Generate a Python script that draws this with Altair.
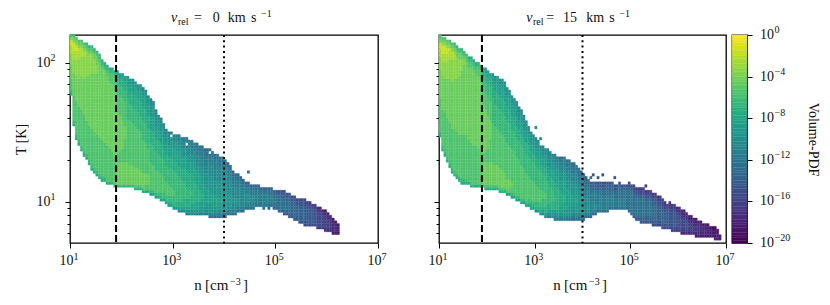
import altair as alt
import pandas as pd

FONT = "Liberation Serif"
INK = "#111"
LOG_N0, LOG_T0 = 1.0, 0.705
DN, DT = 0.05, 0.02   # bin widths of the histogram, in decades
T_DOMAIN = [10 ** LOG_T0, 158.5]
N_DOMAIN = [10, 1e7]
N_DASHED = 79
N_DOTTED = 1e4
LEVEL_SHIFT = 0.6     # calibration of the -log10(PDF) readings below

# first occupied T-bin of each n-bin
LOW_A = [53,42,37,35,33,31,30,28,26,25,24,23,22,22,21,21,21,20,20,20,20,20,20,20,20,19,19,19,18,18,18,17,17,16,16,15,15,14,13,13,12,12,11,11,11,10,10,10,10,10,10,10,10,10,9,9,9,9,9,9,9,10,10,10,10,11,11,11,12,12,12,12,13,13,13,12,13,12,13,12,12,11,11,10,10,9,9,8,8,7,7,6,6,6,6,6,5,5,5,4,4,4,3,3,3]
# -log10(PDF) going up each n-bin: "<level>x<count>", "_" = empty bin
RUNS_A = [
"7 6 5x4 4x5 3x4 2x3 1x2 3 5","7 6 5x9 4x8 3x5 2x3 1x3 3 4 5","7 6 5x12 4x9 3x6 2x3 1x2 3 4 5","7 6 5x12 4x10 3x7 2x3 1 3 4 5",
"7 6 5x13 4x12 3x7 2x3 3 4 5","7 6 5x13 4x13 3x8 2x2 3 4 5","7 6 5x12 4x16 3x9 4 5 6","7 6 5x12 4x18 3x8 4 5 6",
"7 6 5x13 4x20 3x7 4 5 6","7 6 5x13 4x21 3x5 4x2 5 6","7 6 5x13 4x22 3x3 4x3 5 6","7 6 5x13 4x27 5 6x2",
"7 6 5x13 4x26 5 6x2","7 6 5x12 4x26 5 6 7","7 5x13 4x25 5x2 6 7","7 5x12 4x24 5x3 6 7","6 5x11 4x24 5x4 6 7","7 5x10 4x24 5x5 6 7",
"6 4x8 5x3 4x15 5x7 6x4 7x2 8x2","6 4x8 5x4 4x13 5x7 6x4 7x2 8x2","6 4x8 5x5 4x10 5x8 6x4 7x3 8x2","6 4x8 5x8 4x5 5x9 6x4 7x3 8x2",
"6 4x8 5x15 6x8 7x4 8x3 9","6 4x7 5x16 6x6 7x4 8x3 9x2","6 4x7 5x15 6x6 7x5 8x3 9x2","7 5 4x6 5x15 6x6 7x5 8x3 9x2",
"7 5 4x6 5x14 6x6 7x5 8x3 9x2","7 5 4x5 5x14 6x6 7x5 8x4 9x2","7 5 4x5 5x12 6x7 7x5 8x4 9x2 a","7 5x2 4x4 5x11 6x7 7x5 8x4 9x2 a",
"7 5x2 4x4 5x9 6x7 7x5 8x4 9x2 a","8 6 5x10 6x7 7x5 8x5 9x4 ax2","8 6 5x9 6x7 7x5 8x5 9x4 ax2","8 6 5x8 6x7 7x5 8x4 9x4 ax2",
"8 6 5x8 6x6 7x5 8x4 9x3 ax2","8 6x2 5x7 6x6 7x5 8x4 9x3 ax2","8 6x2 5x6 6x6 7x4 8x4 9x3 ax2","8 6x2 5x5 6x6 7x4 8x4 9x3 ax2",
"8 7 6x2 5x4 6x6 7x4 8x4 9x3 ax2","8 7 6x2 5x3 6x7 7x4 8x4 9x3 _ b","9 7 6x3 5x2 6x7 7x4 8x4 9x3 ax2","9 7x2 6x10 7x4 8x4 9x3 ax2 b",
"a 8 7x2 6x9 7x4 8x5 9x3 ax2 b","a 8 7x2 6x8 7x4 8x4 9x3 ax3 b","a 8 7x3 6x6 7x5 8x4 9x3 ax3 b","a 9 8 7x3 6x4 7x6 8x5 9x3 a _ a b",
"a 9 8 7x3 6x3 7x6 8x4 9x3 ax3 bx2","a 9 8x2 7x3 6x2 7x6 8x4 9x3 ax2 bx3","a 9 8x2 7x8 8x5 9x3 ax3 bx3","a 9 8x3 7x6 8x5 9x3 ax3 bx3 c",
"b 9 8x3 7x4 8x6 9x3 ax3 bx2 cx2","b 9x2 8x3 7x2 8x6 9x3 ax3 bx3 cx2","b 9x2 8x8 9x4 ax3 bx3 cx2 d","b a 9x2 8x6 9x5 ax3 bx3 cx2 d",
"c a 9x3 8x5 9x5 ax5 bx2 c _ c","c a 9x3 8x4 9x6 ax4 bx3 cx2","c a 9x2 8x4 9x6 ax4 bx3 cx2","c b 9x2 8x3 9x6 ax5 bx3 cx2",
"c b a 9 8x3 9x6 ax5 bx2 cx2","c b a 9x2 8x2 9x6 ax5 bx2 cx2","c b a 9x9 ax5 bx2 cx2","c b a 9x6 ax6 bx2 c d","c b a 9x5 ax5 bx3 c d",
"c b ax2 9x3 ax4 bx3 c d","c b ax2 9x2 ax4 bx3 c d","c b a 9x2 ax4 bx3 c d","c b ax7 bx2 c d","c b ax6 bx2 c d","c b ax4 bx2 c d",
"c b ax4 bx2 c d _x3 c","c b ax3 bx2 c d","c bx2 ax2 bx2 c d","c bx2 a bx2 c d","c bx5 c d","c bx4 c d","c bx5 c d","c bx4 c d",
"d c bx3 cx2 d","d c bx2 cx2 d","d c bx2 cx2 d","d cx4 d e","d cx5 d e","d cx4 dx2 e","e d cx4 dx2 e","e d cx3 dx2 e","e d cx4 dx2 e",
"e dx5 e f","e dx6 e f","e dx5 e f","e dx5 ex2 f","f dx5 ex2 f","f e dx5 ex2 f","f ex6 f g","f ex6 f g","f ex5 f g","f ex5 f g",
"g fx5 g h","g fx5 g h","g fx4 g h","h gx5 h i","h gx4 hx2","h gx3 hx2","i hx4 i","i hx3 i","i hx2 i",
]

LOW_B = [38,33,31,29,27,25,24,23,22,21,21,21,21,20,20,20,20,20,20,19,19,19,19,19,19,18,18,18,17,17,16,16,15,15,14,14,13,13,12,12,11,11,10,10,9,9,9,9,8,8,8,8,8,8,8,8,8,8,8,8,8,9,9,9,10,10,11,11,11,11,11,12,12,12,12,12,12,12,12,11,10,9,8,8,7,7,7,7,7,6,6,6,6,5,5,5,5,4,4,4,4,3,3,3,3,3,3,2,2,2,2,2,2,2,2,1,1,1]
RUNS_B = [
"7 6 5x12 4x10 3x5 2x3 1x2 3 4 5","7 6 5x13 4x12 3x5 2x3 1x3 3 4 5","7 6 5x14 4x12 3x6 2x3 1x3 3 4 5","7 6 5x14 4x14 3x6 2x3 1x2 3 4 5",
"7 6 5x14 4x16 3x7 2x3 1 3 4 5","7 6 5x14 4x17 3x8 2x3 3 4 5","7 6 5x15 4x18 3x7 2x2 3 4 5 6","7 6 5x15 4x19 3x8 4x2 5 6",
"7 6 5x15 4x21 3x6 4x2 5 6","7 6 5x16 4x23 3x4 4x2 5 6","7 6 5x16 4x25 3x2 4 5 6","7 6 5x16 4x26 5x2 6","7 5x15 4x26 5x2 6 7",
"7 5x15 4x27 5x2 6 7","7 5x14 4x27 5x2 6 7","7 5x14 4x26 5x2 6 7","7 5x13 4x26 5x3 6 7","7 5x12 4x26 5x3 6 7",
"6 4x8 5x3 4x18 5x6 6x3 7x2 8x2","7 5 4x8 5x4 4x15 5x6 6x4 7x3 8x2","7 5 4x8 5x5 4x12 5x7 6x4 7x3 8x2","7 5 4x8 5x8 4x7 5x7 6x5 7x3 8x2",
"7 5 4x8 5x14 6x9 7x5 8x3 9","7 5 4x7 5x14 6x8 7x5 8x3 9x2","7 5 4x7 5x13 6x8 7x5 8x4 9x2","7 5 4x7 5x13 6x8 7x5 8x4 9x2",
"7 5 4x6 5x13 6x8 7x5 8x4 9x3","7 5 4x5 5x13 6x8 7x5 8x4 9x3","8 5 4x4 5x13 6x8 7x5 8x4 9x3","8 5x2 4x3 5x12 6x8 7x5 8x4 9x3",
"8 6 5x2 4x2 5x12 6x7 7x5 8x4 9x3","8 6 5x15 6x7 7x4 8x4 9x3 a","8 6 5x14 6x7 7x4 8x4 9x3 ax2","8 6 5x13 6x7 7x4 8x3 9x3 ax2",
"8 6 5x12 6x7 7x4 8x4 9x3 ax2","8 6 5x11 6x7 7x4 8x3 9x3 ax2","8 6 5x10 6x7 7x4 8x3 9x3 ax2","8 6x2 5x8 6x7 7x4 8x3 9x3 a",
"8 7 6 5x8 6x7 7x3 8x3 9x3 a","8 7 6 5x7 6x7 7x3 8x3 9x3 a","9 7 6x2 5x6 6x7 7x3 8x3 9x3 a _x3 a","9 7 6x2 5x5 6x7 7x3 8x3 9x3 a",
"9 7x2 6x2 5x4 6x7 7x2 8x3 9x3 a _x2 b","a 8 7 6x3 5x3 6x6 7x3 8x3 9x2 ax2","a 8 7x2 6x3 5x2 6x6 7x3 8x3 9x2 ax2","a 9 7x3 6x8 7x3 8x3 9x3 ax3",
"a 9 8 7x2 6x6 7x4 8x3 9x3 ax3","a 9 8 7x3 6x4 7x4 8x3 9x3 ax2 b","b a 9 8 7x3 6x2 7x5 8x4 9x3 ax2 b","b a 9 8 7x8 8x4 9x3 ax2 b c",
"b a 9 8x2 7x6 8x4 9x3 ax3 b c","b a 9 8x3 7x4 8x5 9x3 ax2 bx2 c","b a 9x2 8x3 7x2 8x6 9x3 ax2 bx2 c","b a 9x2 8x8 9x4 ax2 bx2 cx2",
"c a 9x3 8x6 9x4 ax3 bx2 cx2","c b 9x3 8x5 9x4 ax3 bx2 cx2","c b a 9x2 8x4 9x5 ax3 bx2 cx2","c b a 9x3 8x2 9x5 ax3 bx2 cx2",
"c b a 9x8 ax3 bx2 cx2 d","c b a 9x6 ax4 bx2 cx2 d","d b ax7 bx4 c dx3","d b ax6 bx3 cx2 dx2","d b ax5 bx3 cx2 dx2",
"d b ax4 bx3 cx2 dx2 _ d","d b ax3 bx3 c dx3 _x2 e","d b ax2 bx4 c dx2 e","d b a bx4 c dx2 e _ e","c bx5 cx2 d ex2",
"c bx5 cx2 d ex2 _x2 e","c bx5 cx2 dx2 e","c bx5 cx2 dx2 e","c bx4 cx2 dx2 e","c bx4 cx2 dx2 e","c bx3 cx2 d ex2 _x2 e",
"c bx3 cx3 d e","c bx3 cx3 dx2 e","c bx3 cx3 d e","c bx3 cx3 d e","d cx6 d e","d cx7 d e f","d cx7 d e f","e cx8 d e f",
"e d cx6 d e f g","e d cx6 d e f g","e d cx7 d e f g","e dx2 cx6 d e f g","e dx2 cx5 d e f g _ g","e dx2 cx5 d e f g","e dx2 cx5 d e f g",
"f e d cx4 dx2 e f g","f e dx6 ex2 f g","f e dx5 ex2 f g","f e dx5 ex2 f g","f e dx5 e fx2 g","f e dx4 e f gx2","f ex6 f g","f ex6 f gx2",
"g f ex5 f gx2","g f ex5 f gx2","g f ex4 f g h","g fx5 g hx2","h g fx4 g hx2","h g fx4 g hx2","h g fx3 g hx2","h g fx2 g hx2",
"h gx3 h ix2","h gx2 hx2 i","i h gx2 hx2 i","i hx4 i","i hx4 i","i hx3 i","i hx2 ix2","i hx3 i","ix3 j","ix3 j","ix4 j","ix3 j","ix2",
]

N_TICKS = [(10, "1"), (1e3, "3"), (1e5, "5"), (1e7, "7")]
T_LABELS = [(10, "1"), (100, "2")]
T_TICKS = [6, 7, 8, 9, 10, 20, 30, 40, 50, 60, 70, 80, 90, 100]
CBAR_TICKS = [(0, "0"), (-4, "−4"), (-8, "−8"), (-12, "−12"), (-16, "−16"), (-20, "−20")]
# text, x offset from the panel's left edge, y offset from the baseline, font size, style
TITLE_A = [("v", 101, 0, 14, "italic"), ("rel", 108, 2.5, 10, "normal"), ("=", 124, 0, 14, "normal"), ("0", 142.7, 0, 14, "normal"),
           ("km", 157.7, 0, 14, "normal"), ("s", 181, 0, 14, "normal"), ("−1", 191, -5, 10, "normal")]
TITLE_B = [("v", 87.3, 0, 14, "italic"), ("rel", 94, 2.5, 10, "normal"), ("=", 107.3, 0, 14, "normal"), ("15", 124, 0, 14, "normal"),
           ("km", 147.3, 0, 14, "normal"), ("s", 170.3, 0, 14, "normal"), ("−1", 180.3, -5, 10, "normal")]
XLAB_A = [("n", 124.3, 0, 15, "normal"), ("[cm", 135, 0, 15, "normal"), ("−3", 160, -5, 10, "normal"), ("]", 173, 0, 15, "normal")]
XLAB_B = [("n", 114.3, 0, 15, "normal"), ("[cm", 125, 0, 15, "normal"), ("−3", 150, -5, 10, "normal"), ("]", 163, 0, 15, "normal")]


def expand(low, runs):
    rows = []
    for i, (lo, run) in enumerate(zip(low, runs)):
        j = lo
        for tok in run.split():
            c, _, n = tok.partition("x")
            for _k in range(int(n) if n else 1):
                if c != "_":
                    rows.append({
                        "n0": 10 ** (LOG_N0 + DN * i), "n1": 10 ** (LOG_N0 + DN * (i + 1)),
                        "t0": 10 ** (LOG_T0 + DT * j), "t1": 10 ** (LOG_T0 + DT * (j + 1)),
                        "logpdf": -(int(c, 36) + LEVEL_SHIFT),
                    })
                j += 1
    return pd.DataFrame(rows)


COLOR = alt.Scale(domain=[-20, 0], scheme="viridis")
X_SCALE = alt.Scale(type="log", domain=N_DOMAIN, nice=False)
Y_SCALE = alt.Scale(type="log", domain=T_DOMAIN, nice=False)
MAJOR = "datum.value==10||datum.value==100"


def txt(size=14, style="normal", align="left", baseline="alphabetic", **kw):
    return dict(font=FONT, fontSize=size, fontStyle=style, align=align, baseline=baseline, color=INK, **kw)


def pieces(parts, base_y):
    out = []
    for text, dx, dy, size, style in parts:
        out.append(alt.Chart(pd.DataFrame({"t": [text]})).mark_text(**txt(size, style)).encode(
            x=alt.value(dx), y=alt.value(base_y + dy), text="t:N"))
    return out


def panel(low, runs, width, show_y, title_parts, xlab_parts):
    base = alt.Chart(expand(low, runs))
    y_axis = alt.Axis(
        values=T_TICKS, grid=False, labels=False, title="T [K]" if show_y else None, titleFontWeight="normal",
        tickSize={"condition": {"test": MAJOR, "value": 5}, "value": 3},
        tickColor="black", domain=False, titlePadding=36,
    )
    x_axis = alt.Axis(
        values=[t[0] for t in N_TICKS], grid=False, labels=False, title=None,
        tickSize=5, tickColor="black", domain=False,
    )
    cells = base.mark_rect(strokeWidth=0.25).encode(
        x=alt.X("n0:Q", scale=X_SCALE, axis=x_axis),
        x2="n1:Q",
        y=alt.Y("t0:Q", scale=Y_SCALE, axis=y_axis),
        y2="t1:Q",
        color=alt.Color("logpdf:Q", scale=COLOR, legend=None),
        stroke=alt.Stroke("logpdf:Q", scale=COLOR, legend=None),
    )
    nx = alt.X("n:Q", scale=X_SCALE, axis=x_axis)
    dashed = alt.Chart(pd.DataFrame({"n": [N_DASHED]})).mark_rule(
        color="black", strokeWidth=2, strokeDash=[7, 3]).encode(x=nx)
    dotted = alt.Chart(pd.DataFrame({"n": [N_DOTTED]})).mark_rule(
        color="black", strokeWidth=2, strokeDash=[2, 3.3]).encode(x=nx)

    nt = pd.DataFrame({"n": [t[0] for t in N_TICKS], "e": [t[1] for t in N_TICKS], "b": ["10"] * len(N_TICKS)})
    x_base = alt.Chart(nt).mark_text(**txt(align="right", dx=3.5)).encode(x=nx, y=alt.value(230), text="b:N")
    x_sup = alt.Chart(nt).mark_text(**txt(10, dx=3.5)).encode(x=nx, y=alt.value(225), text="e:N")
    layers = [cells, dashed, dotted, x_base, x_sup]
    if show_y:
        tt = pd.DataFrame({"t": [t[0] for t in T_LABELS], "e": [t[1] for t in T_LABELS], "b": ["10"] * len(T_LABELS)})
        ty = alt.Y("t:Q", scale=Y_SCALE, axis=y_axis)
        layers += [
            alt.Chart(tt).mark_text(**txt(align="right", baseline="middle", dx=-19.5)).encode(x=alt.value(0), y=ty, text="b:N"),
            alt.Chart(tt).mark_text(**txt(10, baseline="middle", dx=-19.5, dy=-5)).encode(x=alt.value(0), y=ty, text="e:N"),
        ]
    layers += pieces(title_parts, -13) + pieces(xlab_parts, 255)
    return alt.layer(*layers).properties(width=width, height=208)


left = panel(LOW_A, RUNS_A, 308, True, TITLE_A, XLAB_A)
right = panel(LOW_B, RUNS_B, 287, False, TITLE_B, XLAB_B)

cbar_df = pd.DataFrame({"v0": [v / 4 for v in range(-80, 0)], "v1": [v / 4 for v in range(-79, 1)]})
cbar_scale = alt.Scale(domain=[-20, 0], nice=False)
cbar_axis = alt.Axis(
    orient="right", values=[t[0] for t in CBAR_TICKS], grid=False, labels=False, title="Volume-PDF",
    titleFontWeight="normal", tickSize=5, tickColor="black", domain=False, titlePadding=53,
)
ramp = alt.Chart(cbar_df).mark_rect(strokeWidth=0.3).encode(
    y=alt.Y("v0:Q", scale=cbar_scale, axis=cbar_axis),
    y2="v1:Q",
    color=alt.Color("v0:Q", scale=COLOR, legend=None),
    stroke=alt.Stroke("v0:Q", scale=COLOR, legend=None),
)
ct = pd.DataFrame({"v": [t[0] for t in CBAR_TICKS], "e": [t[1] for t in CBAR_TICKS], "b": ["10"] * len(CBAR_TICKS)})
cy = alt.Y("v:Q", scale=cbar_scale, axis=cbar_axis)
cbar = alt.layer(
    ramp,
    alt.Chart(ct).mark_text(**txt(baseline="middle", dx=28)).encode(x=alt.value(0), y=cy, text="b:N"),
    alt.Chart(ct).mark_text(**txt(10, baseline="middle", dx=42.5, dy=-5)).encode(x=alt.value(0), y=cy, text="e:N"),
).properties(width=15, height=208)

chart = alt.hconcat(
    left,
    alt.hconcat(right, cbar, spacing=6, bounds="flush"),
    spacing=61, bounds="flush",
).configure_view(stroke="black", strokeWidth=1.3).configure_axis(
    titleFont=FONT, titleFontSize=14, titleColor=INK, tickWidth=1,
).properties(padding={"left": 5, "top": 0, "right": 0, "bottom": 0})

chart.save("out.html", embed_options={"renderer": "svg", "actions": False})
